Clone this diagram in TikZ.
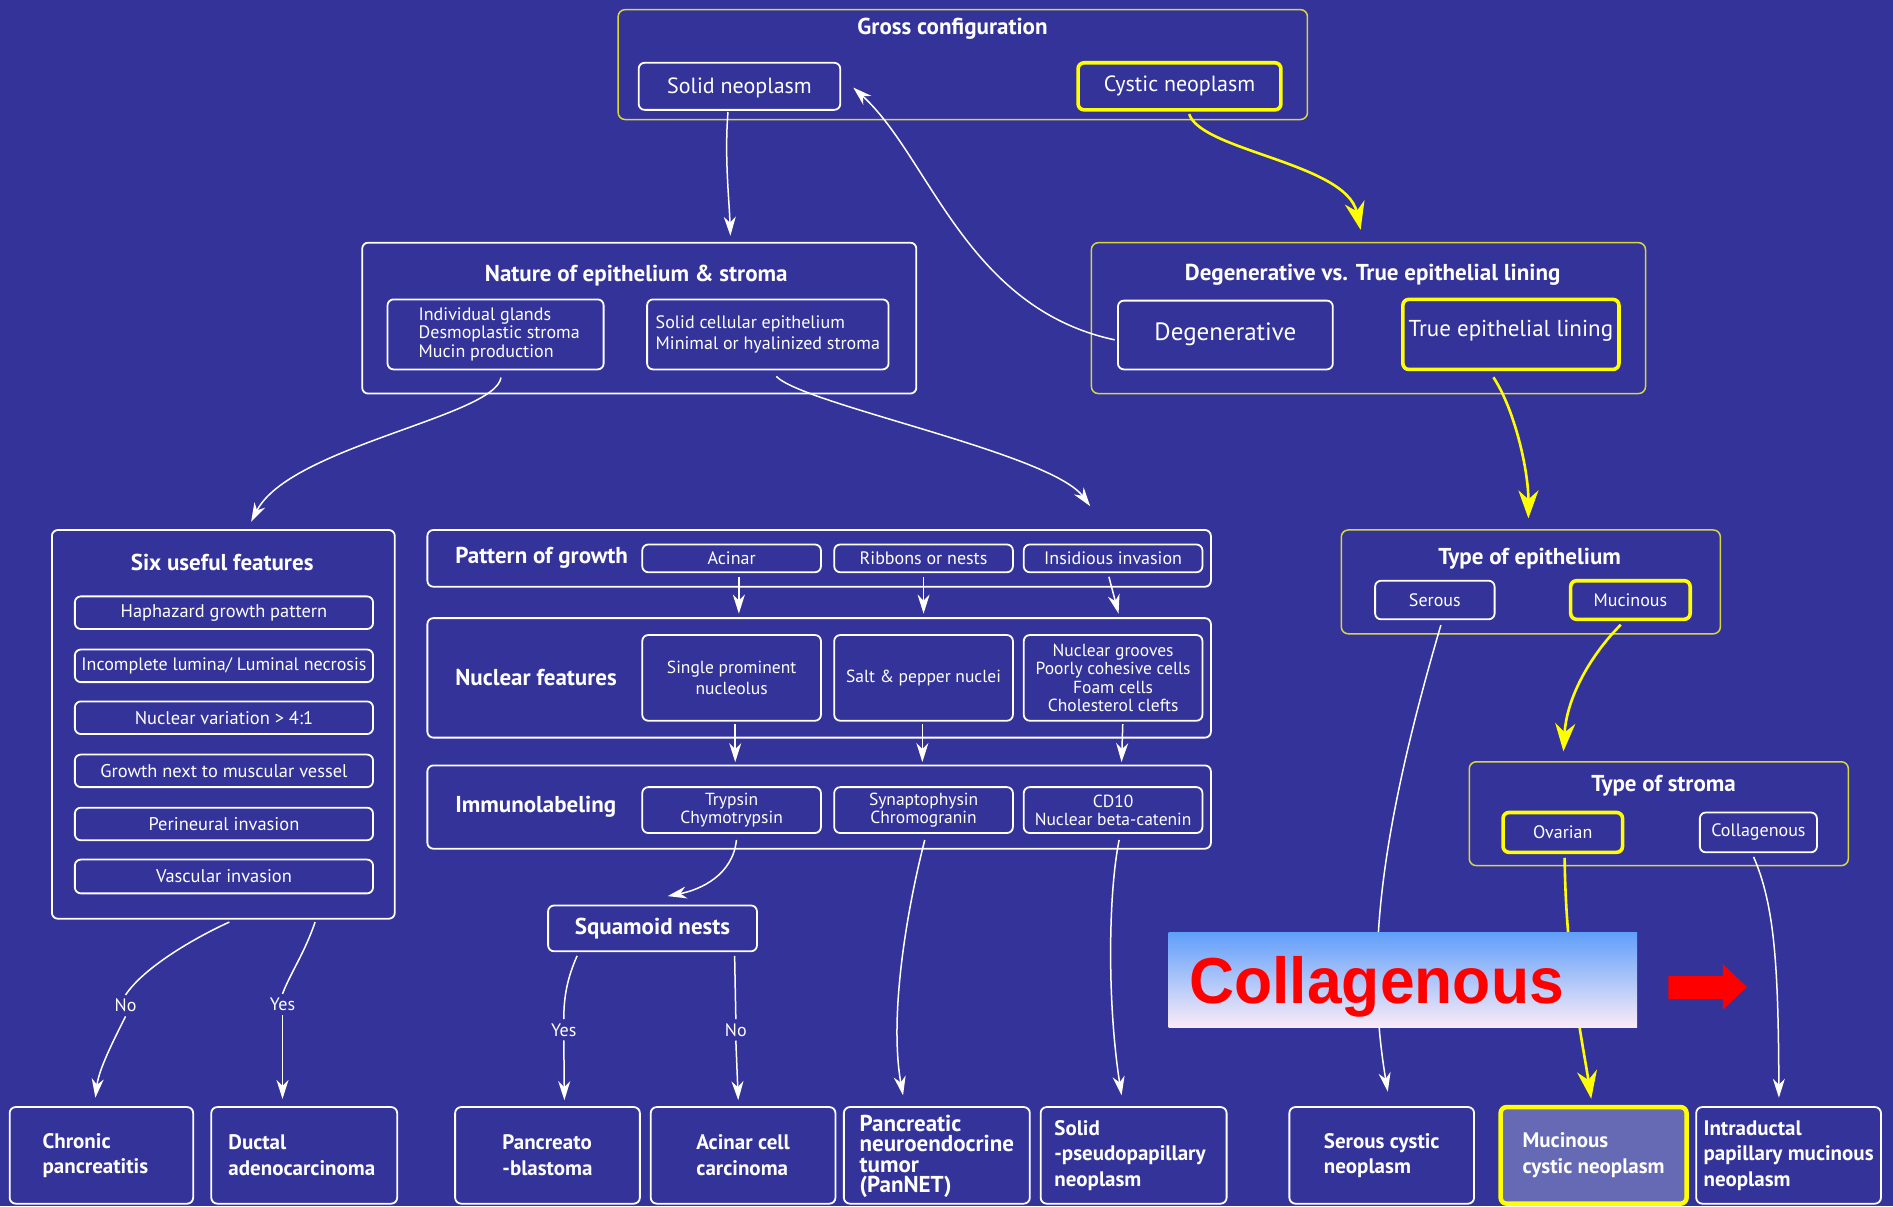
\documentclass[tikz,border=0pt]{standalone}
\usepackage{fontspec}
\setmainfont{PT Sans}
\newfontfamily\arialfont{Liberation Sans}
\usetikzlibrary{fit,calc,arrows.meta}
\definecolor{bgblue}{RGB}{52,51,153}
\definecolor{ybright}{RGB}{255,255,0}
\definecolor{ythin}{RGB}{215,215,60}
\definecolor{mcnfill}{RGB}{102,106,180}
\definecolor{gtop}{RGB}{96,158,250}
\definecolor{gmid}{RGB}{140,192,250}
\definecolor{gbot}{RGB}{250,236,248}
\newcommand\fsz[2]{\fontsize{#1}{#2}\selectfont}
\begin{document}
\begin{tikzpicture}[x=1.2073pt,y=-1.2073pt,
  wbox/.style={draw=white, line width=1.8pt, rounded corners=6pt, inner sep=0pt},
  ythinbox/.style={draw=ythin, line width=1.5pt, rounded corners=7pt, inner sep=0pt},
  ybox/.style={draw=ybright, line width=3.6pt, rounded corners=6pt, inner sep=0pt},
  txt/.style={text=white, inner sep=0pt, align=center, font=\fsz{18}{20}},
  ltxt/.style={text=white, inner sep=0pt, align=left, font=\fsz{18}{18.5}},
  ttl/.style={text=white, inner sep=0pt, font=\bfseries\fsz{23}{25}},
  btxt/.style={text=white, inner sep=0pt, align=left, font=\bfseries\fsz{21}{25.4}},
  conn/.style={draw=white, line width=1.5pt, -{Stealth[length=19pt,width=12pt,inset=6pt]}},
  wline/.style={draw=white, line width=1.5pt},
  yconn/.style={draw=ybright, line width=2.6pt, -{Stealth[length=28pt,width=20pt,inset=9pt]}},
  lbl/.style={text=white, inner xsep=3pt, inner ysep=4pt, font=\fsz{18}{19}},
]
\fill[bgblue] (0,0) rectangle (1568,999);
\useasboundingbox (0,0) rectangle (1568,999);

% Gross configuration
\node[ythinbox, fit={(512,8) (1083,99)}] (gross) {};
\node[ttl] (grosst) at (789,24) {Gross configuration};
\node[wbox, fit={(529,52) (696,91)}] (solid) {};
\node[txt, font=\fsz{22}{24}] (solidt) at ($(solid.center)+(0,1.5)$) {Solid neoplasm};
\node[ybox, fit={(893,52) (1061,91)}] (cystic) {};
\node[txt, font=\fsz{22}{24}] (cystict) at (cystic.center) {Cystic neoplasm};

% Nature of epithelium
\node[wbox, fit={(300,201) (759,326)}] (nature) {};
\node[ttl] (naturet) at (527,228) {Nature of epithelium \& stroma};
\node[wbox, fit={(321,248) (500,306)}] (indiv) {};
\node[ltxt] (indivt) at ($(indiv.center)+(3,0)$) {Individual glands\\Desmoplastic stroma\\Mucin production};
\node[wbox, fit={(536,248) (736,306)}] (solidcell) {};
\node[ltxt, font=\fsz{18}{21.7}] (solidcellt) at (solidcell.center) {Solid cellular epithelium\\Minimal or hyalinized stroma};

% Degenerative vs true
\node[ythinbox, fit={(904,201) (1363,326)}] (degout) {};
\node[ttl] (degoutt) at (1137,228) {Degenerative vs. True epithelial lining};
\node[wbox, fit={(926,249) (1104,306)}] (degen) {};
\node[txt, font=\fsz{25}{27}] (degent) at ($(degen.center)+(0,-1)$) {Degenerative};
\node[ybox, fit={(1162,248) (1341,306)}] (truel) {};
\node[txt, font=\fsz{23}{25}] (truelt) at ($(truel.center)+(0,-3)$) {True epithelial lining};

% Six useful features
\node[wbox, fit={(43,439) (327,761)}] (six) {};
\node[ttl] (sixt) at (184,466) {Six useful features};
\node[wbox, fit={(62,494) (309,521)}] (f1) {};
\node[txt, font=\fsz{18.4}{20}] (f1t) at (f1.center) {Haphazard growth pattern};
\node[wbox, fit={(62,538) (309,565)}] (f2) {};
\node[txt] (f2t) at (f2.center) {Incomplete lumina/ Luminal necrosis};
\node[wbox, fit={(62,581) (309,608)}] (f3) {};
\node[txt, font=\fsz{18.4}{20}] (f3t) at (f3.center) {Nuclear variation > 4:1};
\node[wbox, fit={(62,625) (309,652)}] (f4) {};
\node[txt, font=\fsz{18.4}{20}] (f4t) at (f4.center) {Growth next to muscular vessel};
\node[wbox, fit={(62,669) (309,696)}] (f5) {};
\node[txt, font=\fsz{18.4}{20}] (f5t) at (f5.center) {Perineural invasion};
\node[wbox, fit={(62,712) (309,740)}] (f6) {};
\node[txt, font=\fsz{18.4}{20}] (f6t) at (f6.center) {Vascular invasion};

% Pattern of growth
\node[wbox, fit={(354,439) (1003,486)}] (pog) {};
\node[ttl, anchor=west] (pogt) at (377,462) {Pattern of growth};
\node[wbox, fit={(532,451) (680,474)}] (acinar) {};
\node[txt] (acinart) at (acinar.center) {Acinar};
\node[wbox, fit={(691,451) (839,474)}] (ribbons) {};
\node[txt] (ribbonst) at (ribbons.center) {Ribbons or nests};
\node[wbox, fit={(848,451) (996,474)}] (insid) {};
\node[txt] (insidt) at (insid.center) {Insidious invasion};

% Nuclear features
\node[wbox, fit={(354,512) (1003,611)}] (nuc) {};
\node[ttl, anchor=west] (nuct) at (377,561) {Nuclear features};
\node[wbox, fit={(532,526) (680,597)}] (n1) {};
\node[txt, font=\fsz{17.5}{21.7}] (n1t) at (n1.center) {Single prominent\\nucleolus};
\node[wbox, fit={(691,526) (839,597)}] (n2) {};
\node[txt, font=\fsz{17.5}{19}] (n2t) at (n2.center) {Salt \& pepper nuclei};
\node[wbox, fit={(848,526) (996,597)}] (n3) {};
\node[txt, font=\fsz{17.5}{18.5}] (n3t) at (n3.center) {Nuclear grooves\\Poorly cohesive cells\\Foam cells\\Cholesterol clefts};

% Immunolabeling
\node[wbox, fit={(354,634) (1003,703)}] (imm) {};
\node[ttl, anchor=west] (immt) at (377,668) {Immunolabeling};
\node[wbox, fit={(532,652) (680,690)}] (i1) {};
\node[txt, font=\fsz{17.5}{18.2}] (i1t) at (i1.center) {Trypsin\\Chymotrypsin};
\node[wbox, fit={(691,652) (839,690)}] (i2) {};
\node[txt, font=\fsz{17.5}{18.2}] (i2t) at (i2.center) {Synaptophysin\\Chromogranin};
\node[wbox, fit={(848,652) (996,690)}] (i3) {};
\node[txt, font=\fsz{17.5}{18.2}] (i3t) at (i3.center) {CD10\\Nuclear beta-catenin};

% Squamoid nests
\node[wbox, fit={(454,750) (627,788)}] (squam) {};
\node[ttl] (squamt) at (squam.center) {Squamoid nests};

% Type of epithelium
\node[ythinbox, fit={(1111,439) (1425,525)}] (toe) {};
\node[ttl] (toet) at (1267,463) {Type of epithelium};
\node[wbox, fit={(1139,481) (1238,513)}] (serous) {};
\node[txt] (seroust) at (serous.center) {Serous};
\node[ybox, fit={(1301,481) (1400,513)}] (mucinous) {};
\node[txt] (mucinoust) at (mucinous.center) {Mucinous};

% Type of stroma
\node[ythinbox, fit={(1217,631) (1531,717)}] (tos) {};
\node[ttl] (tost) at (1378,651) {Type of stroma};
\node[ybox, fit={(1245,673) (1344,706)}] (ovarian) {};
\node[txt] (ovariant) at (ovarian.center) {Ovarian};
\node[wbox, fit={(1408,673) (1505,706)}] (collag) {};
\node[txt] (collagt) at (collag.center) {Collagenous};

% Bottom outcomes
\node[wbox, fit={(8,917) (160,997)}] (b1) {};
\node[btxt] (b1t) at ($(b1.center)+(-5,0)$) {Chronic\\pancreatitis};
\node[wbox, fit={(175,917) (329,997)}] (b2) {};
\node[btxt] (b2t) at ($(b2.center)+(-2,0)$) {Ductal\\adenocarcinoma};
\node[wbox, fit={(377,917) (530,997)}] (b3) {};
\node[btxt] (b3t) at (b3.center) {Pancreato\\-blastoma};
\node[wbox, fit={(539,917) (692,997)}] (b4) {};
\node[btxt] (b4t) at (b4.center) {Acinar cell\\carcinoma};
\node[wbox, fit={(699,917) (853,997)}] (b5) {};
\node[btxt, font=\bfseries\fsz{23}{20.5}] (b5t) at ($(b5.center)+(0,1)$) {Pancreatic\\neuroendocrine\\tumor\\(PanNET)};
\node[wbox, fit={(862,917) (1016,997)}] (b6) {};
\node[btxt] (b6t) at ($(b6.center)+(-3,0)$) {Solid\\-pseudopapillary\\neoplasm};
\node[wbox, fit={(1068,917) (1221,997)}] (b7) {};
\node[btxt] (b7t) at (b7.center) {Serous cystic\\neoplasm};
\node[ybox, fit={(1243,917) (1397,997)}, line width=4.5pt, fill=mcnfill] (b8) {};
\node[btxt] (b8t) at (b8.center) {Mucinous\\cystic neoplasm};
\node[wbox, fit={(1405,917) (1558,997)}] (b9) {};
\node[btxt] (b9t) at (b9.center) {Intraductal\\papillary mucinous\\neoplasm};

% Connectors
\draw[conn] ($(solid.south)+(-9.5,1)$) .. controls (600,130) and (604,165) .. ($(nature.north)+(75.5,-5)$);
\draw[conn] ($(degen.west)+(-2,4)$) .. controls (800,255) and (770,130) .. ($(solid.east)+(10,1)$);
\draw[yconn] ($(cystic.south)+(8,2)$) .. controls (995,125) and (1115,135) .. ($(degout.north)+(-6.5,-10)$);
\draw[conn] ($(indiv.south)+(4.5,6)$) .. controls (410,345) and (240,370) .. ($(six.north)+(23,-6)$);
\draw[conn] ($(solidcell.south)+(7,5)$) .. controls (665,335) and (870,375) .. ($(pog.north)+(224.5,-19)$);
\draw[yconn] ($(truel.south)+(-14.5,5)$) .. controls (1255,340) and (1266,390) .. ($(toe.north)+(-2,-9)$);
\draw[yconn] ($(mucinous.south)+(-8,3)$) .. controls (1320,540) and (1298,575) .. ($(tos.north)+(-79,-8)$);
\draw[conn] ($(serous.south)+(5,4)$) .. controls (1140,700) and (1132,800) .. ($(b7.north)+(5,-12)$);
\draw[yconn] ($(ovarian.south)+(1.5,3)$) .. controls (1297,800) and (1312,870) .. ($(b8.north)+(-2,-5)$);
\draw[conn] ($(collag.south)+(-4,3)$) .. controls (1470,750) and (1473,800) .. ($(b9.north)+(-8,-7)$);

\draw[conn] ($(acinar.south)+(6,3)$) -- ($(nuc.north)+(-66.5,-3)$);
\draw[conn] ($(ribbons.south)+(0,3)$) -- ($(nuc.north)+(86.5,-3)$);
\draw[conn] ($(insid.south)+(-3.5,3)$) -- ($(nuc.north)+(248,-3)$);
\draw[conn] ($(n1.south)+(3,2)$) -- ($(imm.north)+(-69.5,-2)$);
\draw[conn] ($(n2.south)+(-1,2)$) -- ($(imm.north)+(85.5,-2)$);
\draw[conn] ($(n3.south)+(8,2)$) -- ($(imm.north)+(250.5,-2)$);

\draw[conn] ($(i1.south)+(4,5)$) .. controls (607,725) and (580,737) .. ($(squam.north)+(12.5,-7)$);
\draw[conn] ($(i2.south)+(1,5)$) .. controls (752,750) and (736,840) .. ($(b5.north)+(-28,-9)$);
\draw[conn] ($(i3.south)+(5,5)$) .. controls (918,740) and (917,830) .. ($(b6.north)+(-10,-9)$);

% Yes / No branches
\node[lbl] (no1) at (104,833) {No};
\node[lbl] (yes1) at (234,832) {Yes};
\node[lbl] (yes2) at (467,853) {Yes};
\node[lbl] (no2) at (609.5,853) {No};
\draw[wline] ($(six.south)+(5,2)$) .. controls (165,775) and (120,800) .. (no1.north);
\draw[conn] (no1.south) .. controls (95,860) and (82,885) .. ($(b1.north)+(-5,-7)$);
\draw[wline] ($(six.south)+(76,2)$) .. controls (252,790) and (241,805) .. (yes1.north);
\draw[conn] (yes1.south) -- ($(b2.north)+(-18,-6)$);
\draw[wline] ($(squam.south)+(-62.5,3)$) .. controls (470,810) and (467,825) .. (yes2.north);
\draw[conn] (yes2.south) -- ($(b3.north)+(14,-5)$);
\draw[wline] ($(squam.south)+(68,3)$) -- (no2.north);
\draw[conn] (no2.south) -- ($(b4.north)+(-4,-5)$);

% Overlay banner
\node[fit={(968,772) (1356,851)}, inner sep=0pt, top color=gtop, middle color=gmid, bottom color=gbot] (banner) {};
\node[anchor=base west, text=red, inner sep=0pt, xscale=0.96, font=\arialfont\bfseries\fsz{65}{70}] (bannert) at (985,831) {Collagenous};
\fill[red] (1382,808.5) -- (1427,808.5) -- (1427,798.5) -- (1447,817.5) -- (1427,836.5) -- (1427,827.5) -- (1382,827.5) -- cycle;
\end{tikzpicture}
\end{document}
